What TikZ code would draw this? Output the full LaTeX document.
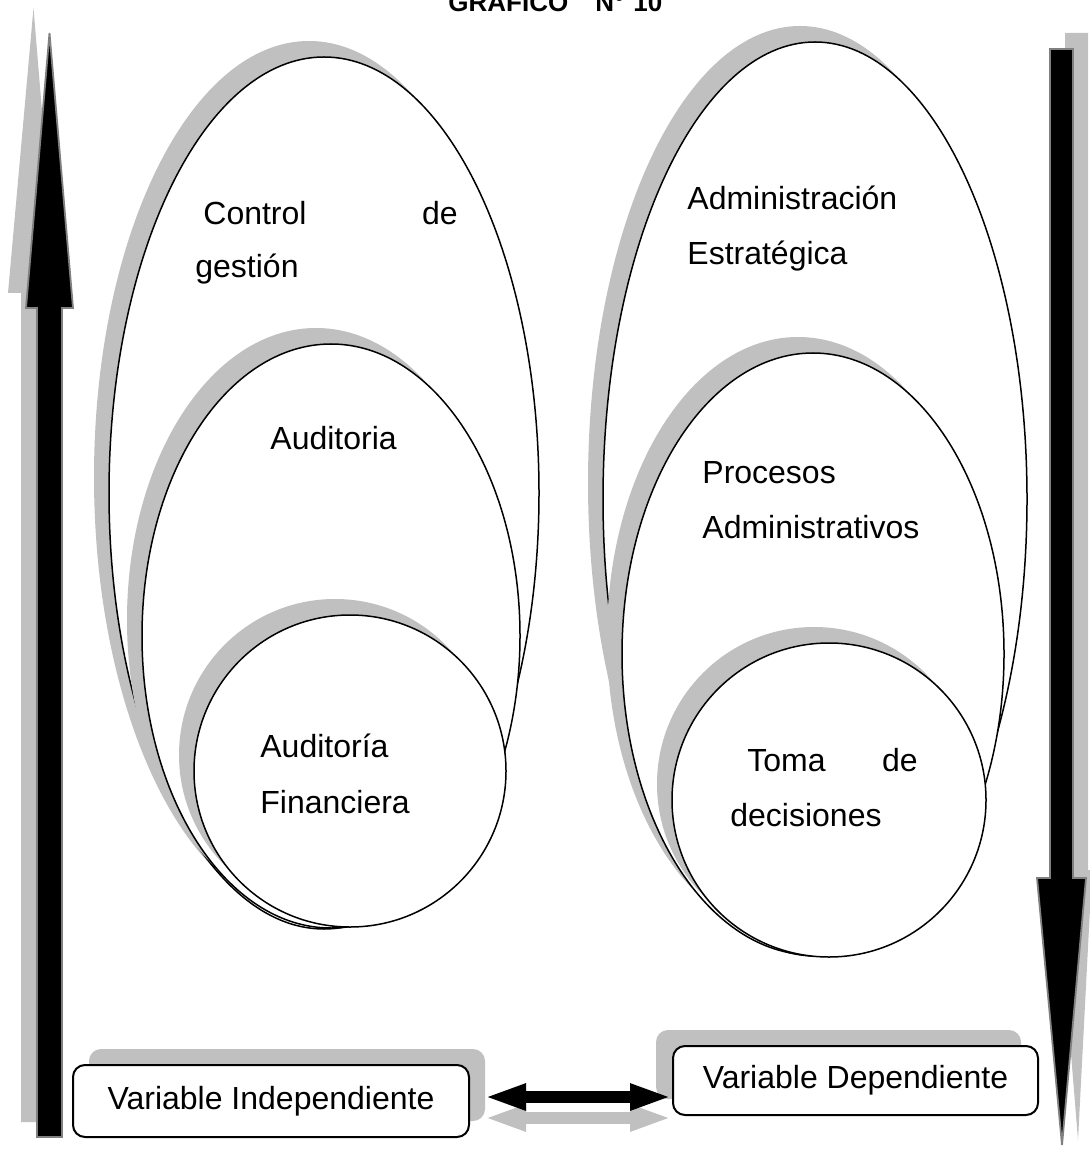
\documentclass[tikz,border=0pt]{standalone}
\usepackage{fontspec}
\setmainfont{Liberation Sans}
\usepackage{tikz}
\usetikzlibrary{arrows.meta,positioning,calc}
\definecolor{shadowgray}{RGB}{192,192,192}
\definecolor{rim}{RGB}{128,128,128}

\begin{document}
\begin{tikzpicture}[x=0.5pt,y=-0.5pt,
    lbl/.style={anchor=base west,inner sep=0pt,font=\fontsize{16}{19}\selectfont},
    oval/.style={draw=black,fill=white,line width=0.75pt},
    ovalshadow/.style={fill=shadowgray},
    bigarrow/.style={fill=black,draw=rim,line width=0.9pt},
    varbox/.style={draw=black,fill=white,rounded corners=6pt,line width=1pt,inner sep=0pt,
        minimum width=198pt,minimum height=36pt,font=\fontsize{16}{19}\selectfont},
    boxshadow/.style={fill=shadowgray,rounded corners=6pt,inner sep=0pt,minimum width=198pt,minimum height=36pt},
    dblarrow/.style={line width=6pt,{Triangle[length=21pt,width=12pt]}-{Triangle[length=21pt,width=12pt]}}]
    \useasboundingbox (0,0) rectangle (1089,1149);

    % Title (cut at the top)
    \node[anchor=base west,inner sep=0pt,font=\bfseries\fontsize{13}{15}\selectfont] (title) at (448,12)
        {GRAFICO\hspace{13.5pt}N°\hspace{4.5pt}10};

    % Arrow up (left)
    \fill[shadowgray] (21,1122) -- (21,293) -- (8,293) -- (33.5,8) -- (57,293) -- (46,293) -- (46,1122) -- cycle;
    \filldraw[bigarrow] (37,1137) -- (37,308) -- (26,308) -- (49.5,33) -- (73,308) -- (62,308) -- (62,1137) -- cycle;

    % Arrow down (right)
    \fill[shadowgray] (1065,33) -- (1065,870) -- (1056,870) -- (1078,1140) -- (1092,870) -- (1088,870) -- (1088,33) -- cycle;
    \filldraw[bigarrow] (1050,49) -- (1050,878) -- (1037,878) -- (1062,1145) -- (1086,878) -- (1073,878) -- (1073,49) -- cycle;

    % Left group
    \begin{scope}
    \fill[ovalshadow] (309,477) ellipse [x radius=215, y radius=436];
    \draw[oval] (324,493) ellipse [x radius=215, y radius=436];
    \fill[ovalshadow] (316,620) ellipse [x radius=189, y radius=292];
    \draw[oval] (331,636) ellipse [x radius=189, y radius=292];
    \fill[ovalshadow] (335,755) circle [radius=156];
    \draw[oval] (350,771) circle [radius=156];
    \node[lbl] (cg1) at (203,225) {Control};
    \node[lbl,anchor=base east] (cg2) at (458,225) {de};
    \node[lbl] (cg3) at (195,278) {gestión};
    \node[lbl] (aud) at (270,449) {Auditoria};
    \node[lbl] (af1) at (260,757) {Auditoría};
    \node[lbl] (af2) at (260,813) {Financiera};
    \end{scope}

    % Right group
    \begin{scope}
    \fill[ovalshadow] (800,483) ellipse [x radius=212, y radius=457];
    \draw[oval] (815,499) ellipse [x radius=212, y radius=457];
    \fill[ovalshadow] (798,638) ellipse [x radius=191, y radius=301];
    \draw[oval] (813,654) ellipse [x radius=191, y radius=301];
    \fill[ovalshadow] (814,784) circle [radius=157];
    \draw[oval] (829,800) circle [radius=157];
    \node[lbl] (ae1) at (687,210) {Administración};
    \node[lbl] (ae2) at (687,265) {Estratégica};
    \node[lbl] (pa1) at (702,483) {Procesos};
    \node[lbl] (pa2) at (702,538) {Administrativos};
    \node[lbl] (td1) at (747,771) {Toma};
    \node[lbl,anchor=base east] (td2) at (918,771) {de};
    \node[lbl] (td3) at (730,826) {decisiones};
    \end{scope}

    % Variable boxes
    \node[boxshadow] (vishade) at (287,1085) {};
    \node[varbox] (vi) at (271,1101) {Variable Independiente};
    \node[boxshadow,minimum width=182.5pt,minimum height=34.5pt] (vdshade) at (838.5,1064.5) {};
    \node[varbox,minimum width=182.5pt,minimum height=34.5pt] (vd) at (855.5,1080.5) {Variable Dependiente};

    % Double arrow between them
    \coordinate (al) at (484,1097);
    \coordinate (ar) at (672,1097);
    \draw[dblarrow,shadowgray] ($(al)+(0,21)$) -- ($(ar)+(0,21)$);
    \draw[dblarrow,black] (al) -- (ar);
\end{tikzpicture}
\end{document}
